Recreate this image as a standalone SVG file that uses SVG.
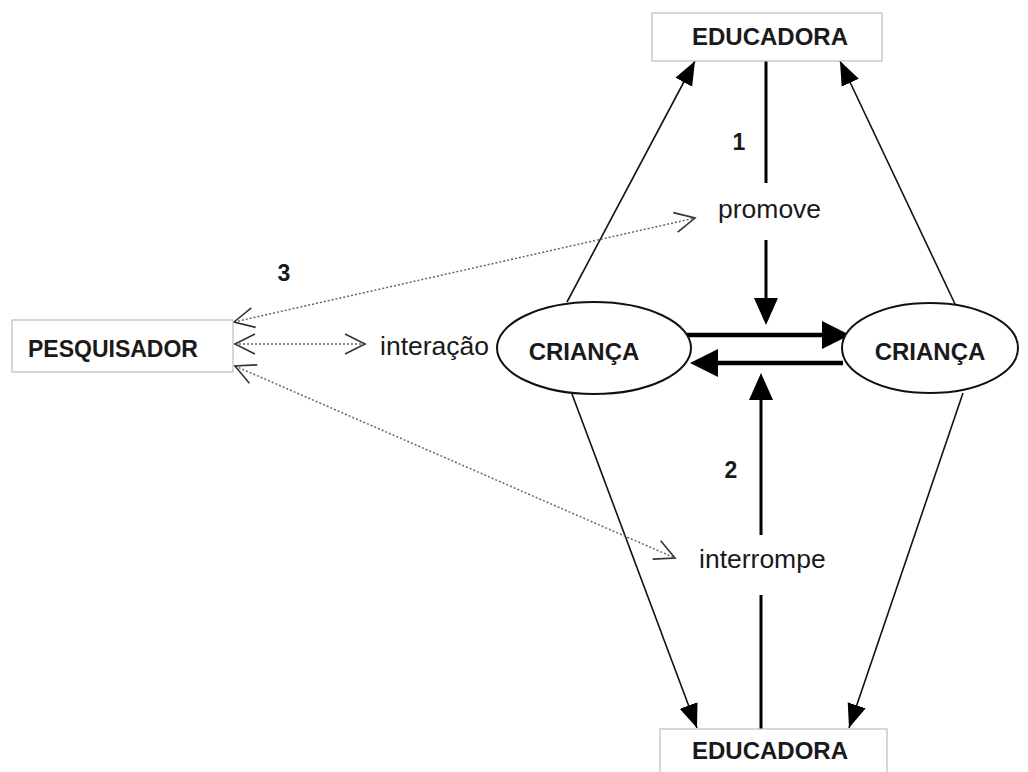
<svg xmlns="http://www.w3.org/2000/svg" width="1028" height="772" viewBox="0 0 1028 772">
<style>
.box{fill:#fff;stroke:#bdbdbd;stroke-width:1.2}
.ell{fill:#fff;stroke:#111;stroke-width:2}
.bold{font-family:"Liberation Sans",Arial,sans-serif;font-weight:bold;font-size:23px;fill:#1a1a1a;text-anchor:middle}
.big{font-size:24px}
.reg{font-family:"Liberation Sans",Arial,sans-serif;font-size:26.5px;fill:#1a1a1a}
.thin{stroke:#111;stroke-width:1.6;fill:none}
.thick{stroke:#000;stroke-width:4.5;fill:none}
.vert{stroke:#000;stroke-width:3;fill:none}
.dot{stroke:#666;stroke-width:1.5;stroke-dasharray:2 2;fill:none}
</style>
<defs>
<marker id="big" markerUnits="userSpaceOnUse" markerWidth="32" markerHeight="32" viewBox="-1 -16 32 32" refX="0" refY="0" orient="auto"><path d="M0,-14 L28,0 L0,14Z" fill="#000"/></marker>
<marker id="vm" markerUnits="userSpaceOnUse" markerWidth="32" markerHeight="32" viewBox="-1 -16 32 32" refX="0" refY="0" orient="auto"><path d="M0,-12 L27,0 L0,12Z" fill="#000"/></marker>
<marker id="sm" markerUnits="userSpaceOnUse" markerWidth="28" markerHeight="24" viewBox="0 -12 28 24" refX="24" refY="0" orient="auto"><path d="M0,-9.5 L24,0 L0,9.5Z" fill="#000"/></marker>
<marker id="op" markerUnits="userSpaceOnUse" markerWidth="26" markerHeight="26" viewBox="-23 -13 26 26" refX="0" refY="0" orient="auto-start-reverse"><path d="M-20,-10 L0,0 L-20,10" fill="none" stroke="#333" stroke-width="1.6"/></marker>
</defs>

<g id="connectors">
<line class="thin" x1="567" y1="302" x2="695" y2="61" marker-end="url(#sm)"/>
<line class="thin" x1="955" y1="304" x2="840" y2="61" marker-end="url(#sm)"/>
<line class="thin" x1="572" y1="394" x2="697" y2="728" marker-end="url(#sm)"/>
<line class="thin" x1="963" y1="393" x2="849" y2="728" marker-end="url(#sm)"/>
<line class="vert" x1="766" y1="61" x2="766" y2="183"/>
<line class="vert" x1="766" y1="240" x2="766" y2="298" marker-end="url(#vm)"/>
<line class="vert" x1="761" y1="729" x2="761" y2="595"/>
<line class="vert" x1="761" y1="535" x2="761" y2="400" marker-end="url(#vm)"/>
<line class="thick" x1="686" y1="335" x2="822" y2="335" marker-end="url(#big)"/>
<line class="thick" x1="843" y1="363" x2="718" y2="363" marker-end="url(#big)"/>
<line class="dot" x1="234" y1="322" x2="695" y2="218" marker-start="url(#op)" marker-end="url(#op)"/>
<line class="dot" x1="235" y1="344" x2="365" y2="344" marker-start="url(#op)" marker-end="url(#op)"/>
<line class="dot" x1="235" y1="366" x2="675" y2="558" marker-start="url(#op)" marker-end="url(#op)"/>
</g>

<g id="educadora-top">
<rect class="box" x="652" y="13" width="230" height="48"/>
<text class="bold big" x="770" y="45">EDUCADORA</text>
</g>
<g id="educadora-bottom">
<rect class="box" x="660" y="729" width="227" height="50"/>
<text class="bold big" x="770" y="759">EDUCADORA</text>
</g>
<g id="pesquisador">
<rect class="box" x="12" y="320" width="221" height="52"/>
<text class="bold" x="113" y="357">PESQUISADOR</text>
</g>
<g id="crianca-left">
<ellipse class="ell" cx="594" cy="348" rx="97" ry="46"/>
<text class="bold big" x="584" y="360">CRIANÇA</text>
</g>
<g id="crianca-right">
<ellipse class="ell" cx="930" cy="348" rx="88" ry="45"/>
<text class="bold big" x="930" y="360">CRIANÇA</text>
</g>

<g id="labels">
<text class="reg" x="380" y="355">interação</text>
<text class="reg" x="718" y="218">promove</text>
<text class="reg" x="699" y="568">interrompe</text>
<text class="bold" x="739" y="150">1</text>
<text class="bold" x="731" y="478">2</text>
<text class="bold" x="284" y="281">3</text>
</g>
</svg>
